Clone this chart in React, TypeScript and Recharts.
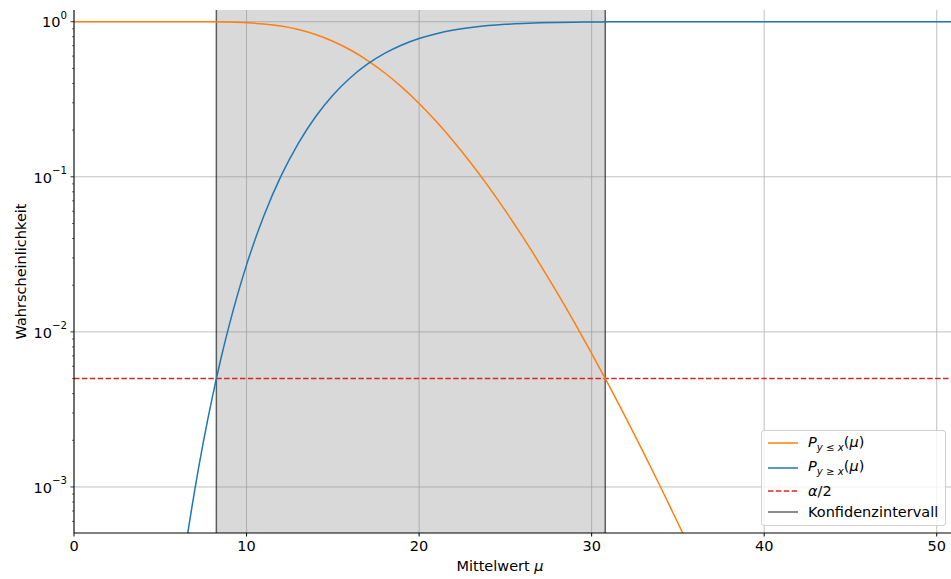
import React from 'react';
import {
  ComposedChart,
  Line,
  XAxis,
  YAxis,
  CartesianGrid,
  ReferenceArea,
  ReferenceLine,
  Legend,
} from 'recharts';

// P(y <= x | mu)
const muOrange = [0, 1, 2, 3, 4, 5, 6, 7, 8, 9, 10, 11, 12, 13, 14, 15, 16, 17, 18, 19, 20, 21, 22, 23, 24, 25, 26, 27, 28, 29, 30, 31, 32, 33, 34, 35, 36];
const pOrange = [1, 1, 1, 1, 1, 0.99999, 0.99994, 0.99964, 0.99841, 0.99468, 0.98572, 0.96782, 0.93705, 0.89045, 0.8272, 0.74886, 0.65935, 0.56402, 0.46874, 0.37836, 0.29703, 0.22696, 0.169, 0.12277, 0.08713, 0.06048, 0.04111, 0.02739, 0.01791, 0.01151, 0.00727, 0.004521, 0.002769, 0.001672, 0.000996, 0.000586, 0.00034];

// P(y >= x | mu)
const muBlue = [6, 6.5, 7, 7.5, 8, 8.5, 9, 9.5, 10, 11, 12, 13, 14, 15, 16, 17, 18, 19, 20, 21, 22, 23, 24, 25, 26, 27, 28, 29, 30, 31, 32, 33, 34, 35, 36, 37, 38, 39, 40, 41, 42, 43, 44, 45, 46, 47, 48, 49, 50, 51];
const pBlue = [0.0001748, 0.0004302, 0.0009582, 0.001959, 0.003718, 0.006613, 0.011106, 0.017727, 0.02704, 0.05591, 0.1013, 0.1645, 0.24408, 0.3359, 0.43403, 0.53225, 0.62487, 0.70797, 0.77893, 0.8371, 0.88296, 0.91793, 0.94374, 0.96225, 0.97518, 0.984, 0.98986, 0.99368, 0.99613, 0.99766, 0.99861, 0.99918, 0.99953, 0.99973, 0.99985, 0.99992, 0.99996, 0.99998, 0.99999, 1, 1, 1, 1, 1, 1, 1, 1, 1, 1, 1];

const alphaHalf = 0.005;
const ciLower = 8.25;
const ciUpper = 30.79;

const xTicks = [0, 10, 20, 30, 40, 50];
const yMajor = [0.001, 0.01, 0.1, 1];
const yMinor = [
  0.0006, 0.0007, 0.0008, 0.0009,
  0.002, 0.003, 0.004, 0.005, 0.006, 0.007, 0.008, 0.009,
  0.02, 0.03, 0.04, 0.05, 0.06, 0.07, 0.08, 0.09,
  0.2, 0.3, 0.4, 0.5, 0.6, 0.7, 0.8, 0.9,
];

const orangeData = muOrange.map((mu, i) => ({ mu, p: pOrange[i] }));
const blueData = muBlue.map((mu, i) => ({ mu, p: pBlue[i] }));

const FONT = '"DejaVu Sans", sans-serif';
const FS = 14.5;
const FS_SMALL = 10.2;

const YTick = (props: any) => {
  const { x, y, payload } = props;
  const lg = Math.log10(payload.value);
  const exp = Math.round(lg);
  if (Math.abs(lg - exp) > 1e-6) {
    return <line x1={x - 2} x2={x} y1={y} y2={y} stroke="#000" strokeWidth={0.6} />;
  }
  const sup = exp === 0 ? '0' : '\u2212' + Math.abs(exp);
  return (
    <g>
      <line x1={x - 3.5} x2={x} y1={y} y2={y} stroke="#000" strokeWidth={0.8} />
      <text x={x - 7} y={y + 5.7} textAnchor="end" fontSize={FS} fontFamily={FONT} fill="#000">
        10<tspan dy={-8.5} fontSize={FS_SMALL}>{sup}</tspan>
      </text>
    </g>
  );
};

const rowStyle = (top: number): React.CSSProperties => ({
  position: 'absolute',
  left: 0,
  top: top - 10,
  height: 20,
  display: 'flex',
  alignItems: 'center',
  whiteSpace: 'nowrap',
});

const LegendSwatch = ({ color, dashed }: { color: string; dashed?: boolean }) => (
  <svg width={46} height={20} style={{ display: 'block' }}>
    <line x1={6} x2={36} y1={10} y2={10} stroke={color} strokeWidth={1.5} strokeDasharray={dashed ? '5.5 2.4' : undefined} />
  </svg>
);

const LegendBox = () => (
  <div
    style={{
      position: 'relative',
      width: 185,
      height: 96,
      boxSizing: 'border-box',
      border: '1px solid #d0d0d0',
      borderRadius: 3,
      background: 'rgba(255,255,255,0.8)',
      fontFamily: FONT,
      fontSize: FS,
      color: '#000',
    }}
  >
    <div style={rowStyle(12)}>
      <LegendSwatch color="#ff7f0e" />
      <span>
        <i>P</i>
        <sub style={{ fontSize: FS_SMALL }}><i>y</i> ≤ <i>x</i></sub>(<i>μ</i>)
      </span>
    </div>
    <div style={rowStyle(36.5)}>
      <LegendSwatch color="#1f77b4" />
      <span>
        <i>P</i>
        <sub style={{ fontSize: FS_SMALL }}><i>y</i> ≥ <i>x</i></sub>(<i>μ</i>)
      </span>
    </div>
    <div style={rowStyle(60)}>
      <LegendSwatch color="#d62728" dashed />
      <span><i>α</i>/2</span>
    </div>
    <div style={rowStyle(81)}>
      <LegendSwatch color="#666666" />
      <span>Konfidenzintervall</span>
    </div>
  </div>
);

export default function App() {
  return (
    <div style={{ position: 'absolute', left: 0, top: 0, width: 951, height: 579, overflow: 'hidden', background: '#fff' }}>
      <ComposedChart width={955} height={579} margin={{ top: 10, right: 1, bottom: 0, left: 0 }}>
        <ReferenceArea x1={ciLower} x2={ciUpper} fill="#808080" fillOpacity={0.3} stroke="none" ifOverflow="hidden" />
        <CartesianGrid stroke="#b0b0b0" strokeWidth={0.8} horizontalValues={yMajor} verticalValues={xTicks} />
        <XAxis
          type="number"
          dataKey="mu"
          domain={[0, 51]}
          allowDataOverflow
          ticks={xTicks}
          interval={0}
          tickSize={3.5}
          tickMargin={4.5}
          height={46}
          stroke="#000"
          tick={{ fontSize: FS, fill: '#000', fontFamily: FONT }}
          label={{
            content: () => (
              <text x={500} y={571} textAnchor="middle" fontSize={FS} fontFamily={FONT} fill="#000">
                Mittelwert <tspan fontStyle="italic">μ</tspan>
              </text>
            ),
          }}
        />
        <XAxis xAxisId="top" orientation="top" type="number" domain={[0, 51]} height={0} tick={false} tickLine={false} stroke="#333" />
        <YAxis
          type="number"
          scale="log"
          domain={[0.000505, 1.19]}
          allowDataOverflow
          ticks={[...yMinor, ...yMajor]}
          interval={0}
          tickLine={false}
          tickSize={0}
          tickMargin={0}
          width={74}
          stroke="#000"
          tick={<YTick />}
          label={{
            content: () => (
              <text x={26} y={271.5} transform="rotate(-90, 26, 271.5)" textAnchor="middle" fontSize={FS} fontFamily={FONT} fill="#000">
                Wahrscheinlichkeit
              </text>
            ),
          }}
        />
        <ReferenceLine x={ciLower} stroke="#000" strokeOpacity={0.6} strokeWidth={1.5} />
        <ReferenceLine x={ciUpper} stroke="#000" strokeOpacity={0.6} strokeWidth={1.5} />
        <ReferenceLine y={alphaHalf} stroke="#d62728" strokeWidth={1.5} strokeDasharray="5.5 2.4" />
        <Line data={orangeData} dataKey="p" type="monotone" stroke="#ff7f0e" strokeWidth={1.5} dot={false} activeDot={false} isAnimationActive={false} />
        <Line data={blueData} dataKey="p" type="monotone" stroke="#1f77b4" strokeWidth={1.5} dot={false} activeDot={false} isAnimationActive={false} />
        <Legend
          layout="vertical"
          align="center"
          verticalAlign="middle"
          content={() => <LegendBox />}
          wrapperStyle={{ left: 761, top: 430, width: 185, height: 96 }}
        />
      </ComposedChart>
    </div>
  );
}
